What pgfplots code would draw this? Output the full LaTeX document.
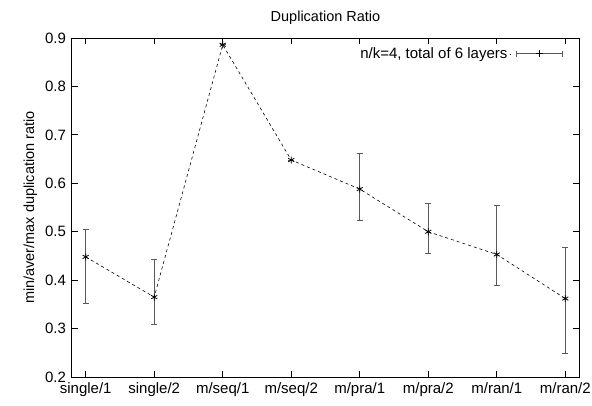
\documentclass[border=0pt]{standalone}
\usepackage{pgfplots}
\pgfplotsset{compat=1.18}
\usepackage{fontspec}
\setmainfont{Liberation Sans}
\definecolor{ebar}{HTML}{5A5A5A}
\begin{document}
\fontsize{14.5pt}{17pt}\selectfont
\begin{tikzpicture}[x=1pt,y=1pt]
\path[use as bounding box] (-72pt,-28pt) rectangle (520pt,377pt);
\begin{axis}[
  at={(0pt,0pt)}, anchor=south west,
  scale only axis, width=507pt, height=339pt,
  xmin=-0.2, xmax=7.2, ymin=0.2, ymax=0.9,
  xtick={0,...,7},
  xticklabels={single/1,single/2,m/seq/1,m/seq/2,m/pra/1,m/pra/2,m/ran/1,m/ran/2},
  ytick={0.2,0.3,...,0.9},
  yticklabel style={/pgf/number format/fixed,/pgf/number format/precision=1,/pgf/number format/fixed zerofill},
  /pgf/number format/assume math mode=true,
  tick align=inside, tick pos=both, major tick length=6pt,
  tick style={black, line width=0.8pt},
  axis line style={line width=1pt},
  ticklabel style={font=\fontsize{15pt}{17pt}\selectfont},
  xticklabel style={yshift=-1pt},
  yticklabel style={xshift=-1pt},
  title={Duplication Ratio},
  title style={font=\fontsize{14.5pt}{17pt}\selectfont, yshift=2pt},
  ylabel={min/aver/max duplication ratio},
  ylabel style={font=\fontsize{14.5pt}{17pt}\selectfont, yshift=-2pt},
  legend plot pos=right,
  legend style={draw=none, fill=none, at={(0.975,0.985)}, anchor=north east, font=\fontsize{15pt}{17pt}\selectfont},
]
\addplot[black, dashed, line width=0.6pt, mark=asterisk, mark size=3.5pt, mark options={solid, line width=0.8pt}, forget plot,
  error bars/.cd, y dir=both, y explicit,
  error bar style={ebar, solid, line width=1.2pt},
  error mark options={ebar, solid, rotate=90, mark size=3pt, line width=1pt}]
  table[x=x, y=y, y error plus=ep, y error minus=em] {
  x y ep em
  0 0.448 0.057 0.096
  1 0.365 0.077 0.057
  2 0.886 0.0 0.0
  3 0.648 0.0 0.0
  4 0.588 0.074 0.064
  5 0.500 0.058 0.046
  6 0.453 0.102 0.065
  7 0.362 0.106 0.114
  };
\addlegendimage{legend image code/.code={
  \path (0pt,0pt) -- (1pt,0pt);
  \draw[ebar, line width=1pt] (7pt,0pt) -- (53pt,0pt);
  \draw[ebar, line width=1pt] (7pt,-3pt) -- (7pt,3pt);
  \draw[ebar, line width=1pt] (53pt,-3pt) -- (53pt,3pt);
  \draw[black, line width=0.8pt] (30pt,-3.5pt) -- (30pt,3.5pt) (26.5pt,0pt) -- (33.5pt,0pt);
}}
\addlegendentry{n/k=4, total of 6 layers}
\end{axis}
\end{tikzpicture}
\end{document}
